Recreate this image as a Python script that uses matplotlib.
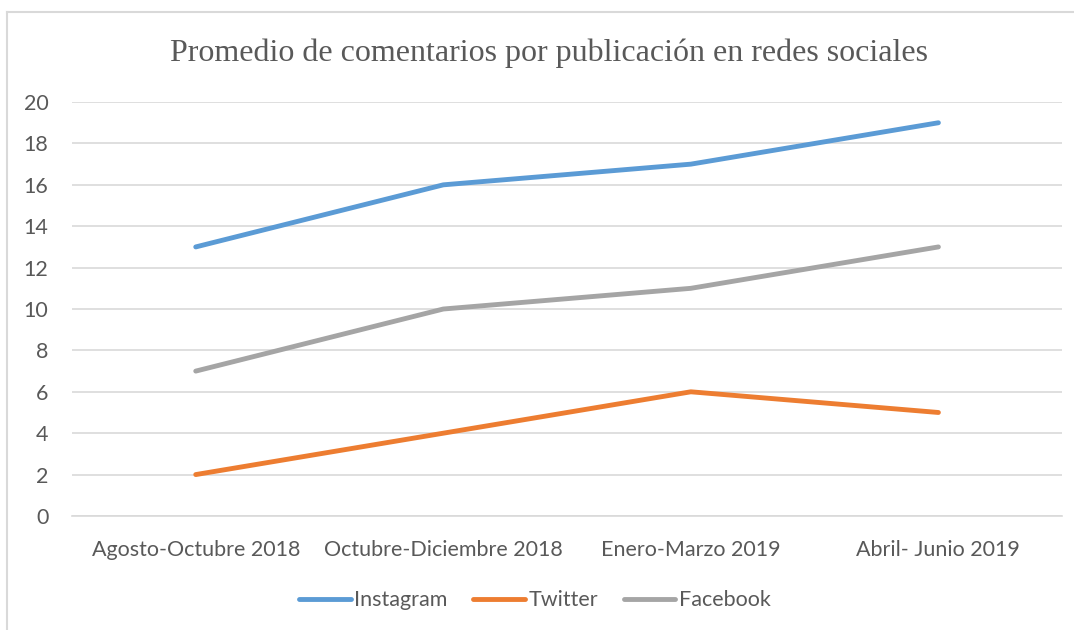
import matplotlib.pyplot as plt
from matplotlib.lines import Line2D

# Data
periods = ["Agosto-Octubre 2018", "Octubre-Diciembre 2018", "Enero-Marzo 2019", "Abril- Junio 2019"]
instagram = [13, 16, 17, 19]
twitter = [2, 4, 6, 5]
facebook = [7, 10, 11, 13]

text_color = "#595959"
grid_color = "#D9D9D9"
sans = "Lato"

fig = plt.figure(figsize=(10.74, 6.3), dpi=100)
ax = fig.add_axes([0.067, 0.181, 0.922, 0.657])

x = range(len(periods))
ax.plot(x, instagram, color="#5B9BD5", lw=3.5, solid_capstyle="round", label="Instagram", zorder=3)
ax.plot(x, twitter, color="#ED7D31", lw=3.5, solid_capstyle="round", label="Twitter", zorder=3)
ax.plot(x, facebook, color="#A5A5A5", lw=3.5, solid_capstyle="round", label="Facebook", zorder=3)

ax.set_xlim(-0.5, len(periods) - 0.5)
ax.set_ylim(0, 20)
ax.set_yticks(range(0, 21, 2))
ax.set_xticks(list(x))
ax.set_xticklabels(periods)
ax.tick_params(axis="both", length=0, labelsize=15.5, labelcolor=text_color,
               labelfontfamily=sans)
ax.tick_params(axis="x", pad=17)
ax.tick_params(axis="y", pad=17)

ax.grid(axis="y", color=grid_color, lw=1.2)
ax.set_axisbelow(True)
for s in ["top", "right", "left"]:
    ax.spines[s].set_visible(False)
ax.spines["bottom"].set_color(grid_color)
ax.spines["bottom"].set_linewidth(1.2)

fig.text(0.511, 0.915, "Promedio de comentarios por publicación en redes sociales",
         ha="center", va="center", fontsize=23, color=text_color,
         family="Liberation Serif")

leg = fig.legend(loc="center", bbox_to_anchor=(0.498, 0.047), ncol=3, frameon=False,
                 prop={"family": sans, "size": 15.5}, handlelength=2.4,
                 handletextpad=0.15, columnspacing=1.2)
for t in leg.get_texts():
    t.set_color(text_color)
for h in leg.get_lines():
    h.set_linewidth(3.5)

# chart border (top and left visible)
fig.add_artist(Line2D([7 / 1074, 1], [1 - 12 / 630, 1 - 12 / 630], color="#D9D9D9", lw=1.5))
fig.add_artist(Line2D([7 / 1074, 7 / 1074], [0, 1 - 12 / 630], color="#D9D9D9", lw=1.5))

fig.savefig("out.png", dpi=100)
